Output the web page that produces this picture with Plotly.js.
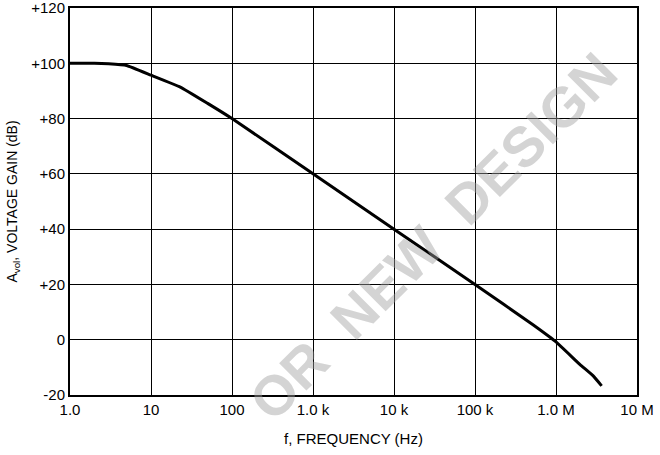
<!DOCTYPE html>
<html>
<head>
<meta charset="utf-8">
<script src="https://cdn.plot.ly/plotly-3.0.1.min.js"></script>
<style>html,body{margin:0;padding:0;background:#fff;}#chart{width:660px;height:455px;}</style>
</head>
<body>
<div id="chart"></div>
<script>
// Data (open-loop voltage gain vs frequency)
const freqHz = [1, 2, 3, 5, 10, 23, 50, 100, 1000, 10000, 100000, 525000, 1000000, 1980000, 2880000, 3660000];
const gainDb = [100, 100, 99.8, 99.2, 95.7, 91.4, 85.5, 80, 60, 40, 20, 5.3, -0.8, -9.0, -13.1, -16.7];

const xTickVals = [1, 10, 100, 1000, 10000, 100000, 1000000, 10000000];
const xTickText = ["1.0", "10", "100", "1.0 k", "10 k", "100 k", "1.0 M", "10 M"];
const yTickVals = [-20, 0, 20, 40, 60, 80, 100, 120];
const yTickText = ["-20", "0", "+20", "+40", "+60", "+80", "+100", "+120"];

const FONT = "Liberation Sans, Arial, sans-serif";
const F = (size) => ({family: FONT, size: size, color: '#000'});

const trace = {
  x: freqHz, y: gainDb, type: 'scatter', mode: 'lines',
  line: {color: '#000', width: 3, shape: 'spline', smoothing: 0.3},
  hoverinfo: 'skip', showlegend: false
};

const layout = {
  width: 660, height: 455,
  margin: {l: 70, r: 23, t: 8, b: 60},
  paper_bgcolor: '#fff', plot_bgcolor: '#fff',
  font: F(14),
  xaxis: {
    type: 'log', range: [0, 7],
    tickvals: xTickVals, ticktext: xTickText,
    showgrid: true, gridcolor: '#000', gridwidth: 1,
    showline: true, linecolor: '#000', linewidth: 2, mirror: true,
    ticks: '', zeroline: false, ticklabeloverflow: 'allow',
    tickfont: F(15),
    title: {text: 'f, FREQUENCY (Hz)', font: F(15), standoff: 16}
  },
  yaxis: {
    range: [-20, 120],
    tickvals: yTickVals, ticktext: yTickText,
    showgrid: true, gridcolor: '#000', gridwidth: 1,
    showline: true, linecolor: '#000', linewidth: 2, mirror: true,
    ticks: '', zeroline: false, ticklabeloverflow: 'allow',
    tickfont: F(15),
    title: {text: 'A<sub>vol</sub>, VOLTAGE GAIN (dB)', font: F(14), standoff: 10}
  },
  annotations: [{
    xref: 'paper', yref: 'paper', x: 0.64, y: 0.41,
    text: '<b>OR  NEW  DESIGN</b>', showarrow: false, textangle: -45,
    font: {family: "Liberation Sans, Arial, sans-serif", size: 56, color: 'rgba(160,160,160,0.45)'}
  }]
};

Plotly.newPlot('chart', [trace], layout, {displayModeBar: false, staticPlot: true});
</script>
</body>
</html>
